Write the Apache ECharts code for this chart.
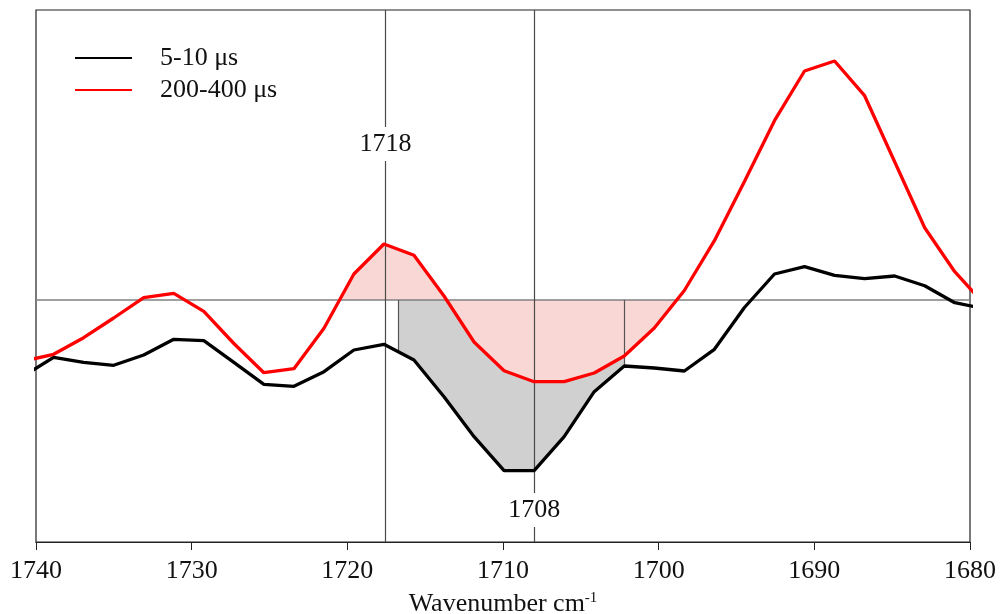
<!DOCTYPE html>
<html>
<head>
<meta charset="utf-8">
<script src="https://cdn.jsdelivr.net/npm/echarts@6/dist/echarts.min.js"></script>
<style>
html,body{margin:0;padding:0;background:#fff;}
#chart{width:1001px;height:614px;}
</style>
</head>
<body>
<div id="chart"></div>
<script>
// ---- data ----
const wavenumbers = [1740.80, 1738.87, 1736.94, 1735.01, 1733.08, 1731.15, 1729.22, 1727.29, 1725.36, 1723.43,
  1721.50, 1719.58, 1717.65, 1715.72, 1713.79, 1711.86, 1709.93, 1708.00, 1706.07, 1704.14,
  1702.21, 1700.28, 1698.35, 1696.42, 1694.49, 1692.56, 1690.63, 1688.70, 1686.77, 1684.84,
  1682.91, 1680.98, 1679.05];
const black5to10 = [-0.76, -0.573, -0.623, -0.653, -0.55, -0.393, -0.407, -0.623, -0.843, -0.863,
  -0.717, -0.50, -0.443, -0.60, -0.967, -1.367, -1.707, -1.707, -1.367, -0.917,
  -0.66, -0.68, -0.71, -0.493, -0.075, 0.26, 0.333, 0.247, 0.213, 0.24,
  0.143, -0.027, -0.087];
const red200to400 = [-0.611, -0.543, -0.377, -0.18, 0.023, 0.067, -0.113, -0.435, -0.727, -0.687,
  -0.283, 0.26, 0.56, 0.447, 0.04, -0.42, -0.707, -0.817, -0.817, -0.73,
  -0.56, -0.28, 0.095, 0.593, 1.185, 1.793, 2.29, 2.39, 2.043, 1.383,
  0.723, 0.283, -0.048];
const seriesNames = ['5-10 \u03bcs', '200-400 \u03bcs'];
const markWavenumbers = [1717.55, 1708.00];
const markLabels = ['1718', '1708'];
const grayRange = [1716.7, 1702.21];
const pinkSearchLeft = [1722, 1719];
const pinkSearchRight = [1701, 1698];
const xMin = 1680, xMax = 1740, xInterval = 10;

// ---- helpers ----
function interp(xs, ys, x) {
  for (let i = 0; i < xs.length - 1; i++) {
    const a = xs[i], b = xs[i + 1];
    if ((x <= a && x >= b) || (x >= a && x <= b)) {
      const t = (x - a) / (b - a);
      return ys[i] + t * (ys[i + 1] - ys[i]);
    }
  }
  return null;
}
function zeroCrossing(xs, ys, win) {
  const hi = Math.max(win[0], win[1]), lo = Math.min(win[0], win[1]);
  for (let i = 0; i < xs.length - 1; i++) {
    if (xs[i] <= hi && xs[i + 1] >= lo && ys[i] * ys[i + 1] <= 0) {
      return xs[i] + (xs[i + 1] - xs[i]) * ys[i] / (ys[i] - ys[i + 1]);
    }
  }
  return null;
}
function segment(xs, ys, from, to) {
  const hi = Math.max(from, to), lo = Math.min(from, to);
  const pts = [[hi, interp(xs, ys, hi)]];
  for (let i = 0; i < xs.length; i++) {
    if (xs[i] < hi && xs[i] > lo) pts.push([xs[i], ys[i]]);
  }
  pts.push([lo, interp(xs, ys, lo)]);
  return pts;
}
const pair = (xs, ys) => xs.map((x, i) => [x, ys[i]]);

const pinkFrom = zeroCrossing(wavenumbers, red200to400, pinkSearchLeft);
const pinkTo = zeroCrossing(wavenumbers, red200to400, pinkSearchRight);

const FONT = "'Liberation Serif', 'Times New Roman', serif";
const chart = echarts.init(document.getElementById('chart'), null, {renderer: 'canvas'});

const option = {
  animation: false,
  grid: {left: 36, right: 31, top: 10, bottom: 72, show: true, borderColor: '#222', borderWidth: 1.2,
    backgroundColor: 'transparent', containLabel: false, outerBoundsMode: 'none'},
  legend: {
    data: seriesNames,
    orient: 'vertical',
    left: 75, top: 45,
    padding: 0,
    itemWidth: 57, itemHeight: 2, itemGap: 6,
    icon: 'rect',
    textStyle: {fontSize: 26, fontFamily: FONT, color: '#111', lineHeight: 26, padding: [0, 0, 0, 23]}
  },
  xAxis: {
    type: 'value', inverse: true, min: xMin, max: xMax, interval: xInterval,
    axisLine: {show: true, onZero: false, lineStyle: {color: '#222', width: 1.2}},
    axisTick: {show: true, inside: false, length: 8, lineStyle: {color: '#222'}},
    axisLabel: {fontSize: 26, fontFamily: FONT, color: '#111', margin: 16, formatter: v => String(v)},
    splitLine: {show: false},
    name: 'Wavenumber cm{sup|-1}',
    nameLocation: 'middle', nameGap: 49,
    nameTextStyle: {fontSize: 26, fontFamily: FONT, color: '#111',
      rich: {sup: {fontSize: 15, fontFamily: FONT, color: '#111', verticalAlign: 'top'}}}
  },
  yAxis: {
    type: 'value', min: -2.42, max: 2.90,
    axisLine: {show: false}, axisTick: {show: false}, axisLabel: {show: false}, splitLine: {show: false}
  },
  series: [
    {
      name: 'grayFill', type: 'line', data: segment(wavenumbers, black5to10, grayRange[0], grayRange[1]),
      symbol: 'none', silent: true, z: 1, lineStyle: {width: 0}, areaStyle: {color: '#d0d0d0', opacity: 1}
    },
    {
      name: 'pinkFill', type: 'line', data: segment(wavenumbers, red200to400, pinkFrom, pinkTo),
      symbol: 'none', silent: true, z: 2, lineStyle: {width: 0}, areaStyle: {color: '#f9d7d4', opacity: 1}
    },
    {
      name: 'guides', type: 'line', data: [], silent: true, z: 3,
      markLine: {
        silent: true, symbol: 'none', z: 5, animation: false,
        label: {show: false},
        emphasis: {disabled: true},
        data: [
          {yAxis: 0, lineStyle: {color: '#808080', width: 1.5, type: 'solid'}},
          {xAxis: markWavenumbers[0], lineStyle: {color: '#4a4a4a', width: 1.2, type: 'solid'}},
          {xAxis: markWavenumbers[1], lineStyle: {color: '#4a4a4a', width: 1.2, type: 'solid'}},
          [{coord: [grayRange[0], 0], lineStyle: {color: '#555', width: 1.2, type: 'solid'}},
           {coord: [grayRange[0], interp(wavenumbers, black5to10, grayRange[0])]}],
          [{coord: [grayRange[1], 0], lineStyle: {color: '#555', width: 1.2, type: 'solid'}},
           {coord: [grayRange[1], interp(wavenumbers, black5to10, grayRange[1])]}]
        ]
      },
      markPoint: {
        silent: true, z: 6, symbol: 'rect', symbolSize: 0, animation: false,
        label: {show: true, position: 'inside', formatter: '{b}', fontSize: 26, fontFamily: FONT, color: '#111',
          backgroundColor: '#fff', padding: [5, 1, 3, 1]},
        data: [
          {name: markLabels[0], coord: [markWavenumbers[0], 1.56]},
          {name: markLabels[1], coord: [markWavenumbers[1], -2.10]}
        ]
      }
    },
    {
      name: seriesNames[0], type: 'line', data: pair(wavenumbers, black5to10), symbol: 'none', z: 10,
      itemStyle: {color: '#000'}, lineStyle: {color: '#000', width: 3.3}, clip: true
    },
    {
      name: seriesNames[1], type: 'line', data: pair(wavenumbers, red200to400), symbol: 'none', z: 11,
      itemStyle: {color: '#ff0000'}, lineStyle: {color: '#ff0000', width: 3.3}, clip: true
    }
  ]
};
chart.setOption(option);
</script>
</body>
</html>
